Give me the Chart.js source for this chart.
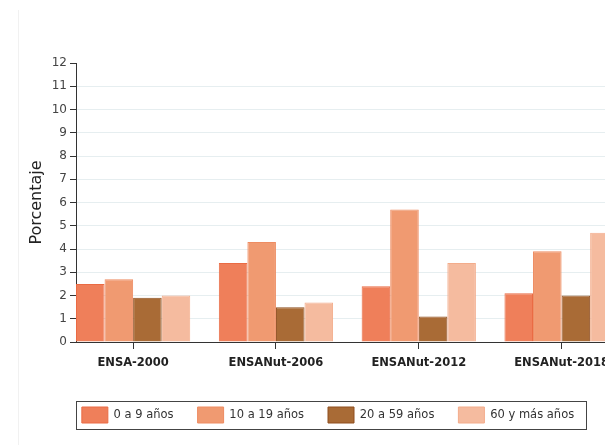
<!DOCTYPE html>
<html>
<head>
<meta charset="utf-8">
<script src="https://cdn.jsdelivr.net/npm/chart.js@4"></script>
<style>
	html, body { margin: 0; padding: 0; background: #fff; overflow: hidden; width: 605px; height: 445px; }
	#frame { position: absolute; left: 18px; top: 10px; bottom: 0; border-left: 1px solid #f1f1f1; }
	#wrap { position: absolute; left: 17px; top: 0; width: 628px; height: 445px; }
</style>
</head>
<body>
<div id="frame"></div>
<div id="wrap"><canvas id="chart"></canvas></div>
<script>
const categories = [ 'ENSA-2000', 'ENSANut-2006', 'ENSANut-2012', 'ENSANut-2018' ];
const ageGroups = [ '0 a 9 años', '10 a 19 años', '20 a 59 años', '60 y más años' ];
const age0to9 = [ 2.5, 3.4, 2.4, 2.1 ];
const age10to19 = [ 2.7, 4.3, 5.7, 3.9 ];
const age20to59 = [ 1.9, 1.5, 1.1, 2.0 ];
const age60plus = [ 2.0, 1.7, 3.4, 4.7 ];
const yTicks = [ 0, 1, 2, 3, 4, 5, 6, 7, 8, 9, 10, 11, 12 ];

const fills = [ '#ef7f5a', '#f09a71', '#a96b36', '#f5bb9f' ];
const borders = [ '#ea6b44', '#ee8c62', '#8f4f1f', '#f3ac8b' ];
const FONT = 'DejaVu Sans';

const series = [ age0to9, age10to19, age20to59, age60plus ];

// frame drawn round the legend, like the original
const legendFrame = {
	id: 'legendFrame',
	afterDraw( chart ) {
		const boxes = chart.legend.legendHitBoxes;
		if ( ! boxes || ! boxes.length ) {
			return;
		}
		const left = Math.min( ...boxes.map( ( b ) => b.left ) ) - 6;
		const right = Math.max( ...boxes.map( ( b ) => b.left + b.width ) ) + 12;
		const top = boxes[ 0 ].top - 6;
		const bottom = boxes[ 0 ].top + boxes[ 0 ].height + 6;
		const ctx = chart.ctx;
		ctx.save();
		ctx.strokeStyle = '#444';
		ctx.lineWidth = 1;
		ctx.strokeRect( Math.round( left ) + 0.5, Math.round( top ) + 0.5, Math.round( right - left ), Math.round( bottom - top ) );
		ctx.restore();
	},
};

new Chart( document.getElementById( 'chart' ), {
	type: 'bar',
	data: {
		datasets: series.map( ( values, k ) => ( {
			label: ageGroups[ k ],
			data: values.map( ( v, i ) => ( { x: i, y: v } ) ),
			backgroundColor: fills[ k ],
			borderColor: borders[ k ],
			borderWidth: 1,
			categoryPercentage: 0.8,
			barPercentage: 1,
		} ) ),
	},
	options: {
		responsive: true,
		maintainAspectRatio: false,
		animation: false,
		layout: { padding: { left: 6, right: 12, top: 63, bottom: 12 } },
		plugins: {
			tooltip: { enabled: false },
			legend: {
				position: 'bottom',
				labels: {
					boxWidth: 26,
					boxHeight: 16,
					padding: 24,
					color: '#333',
					font: { family: FONT, size: 11.5 },
				},
			},
		},
		scales: {
			x: {
				type: 'linear',
				offset: false,
				min: -0.4,
				max: 3.5,
				afterBuildTicks: ( s ) => {
					s.ticks = categories.map( ( c, i ) => ( { value: i } ) );
				},
				afterFit: ( s ) => {
					s.height = 41;
				},
				ticks: {
					autoSkip: false,
					maxRotation: 0,
					padding: 7,
					color: '#222',
					font: { family: FONT, size: 11.5, weight: 'bold' },
					callback: ( v ) => categories[ v ],
				},
				grid: { offset: false, drawOnChartArea: false, tickLength: 7, color: '#333' },
				border: { color: '#333' },
			},
			y: {
				min: yTicks[ 0 ],
				max: yTicks[ yTicks.length - 1 ],
				afterBuildTicks: ( s ) => {
					s.ticks = yTicks.map( ( v ) => ( { value: v } ) );
				},
				afterFit: ( s ) => {
					s.width = 53;
				},
				title: {
					display: true,
					text: 'Porcentaje',
					color: '#222',
					font: { family: FONT, size: 16 },
					padding: { top: 4, bottom: 4 },
				},
				ticks: {
					color: '#444',
					font: { family: FONT, size: 12 },
				},
				grid: {
					color: ( c ) => ( c.tick && c.tick.value === 12 ? 'rgba(0,0,0,0)' : '#e6eef0' ),
					tickColor: '#333',
					tickLength: 6,
				},
				border: { color: '#333' },
			},
		},
	},
	plugins: [ legendFrame ],
} );
</script>
</body>
</html>
